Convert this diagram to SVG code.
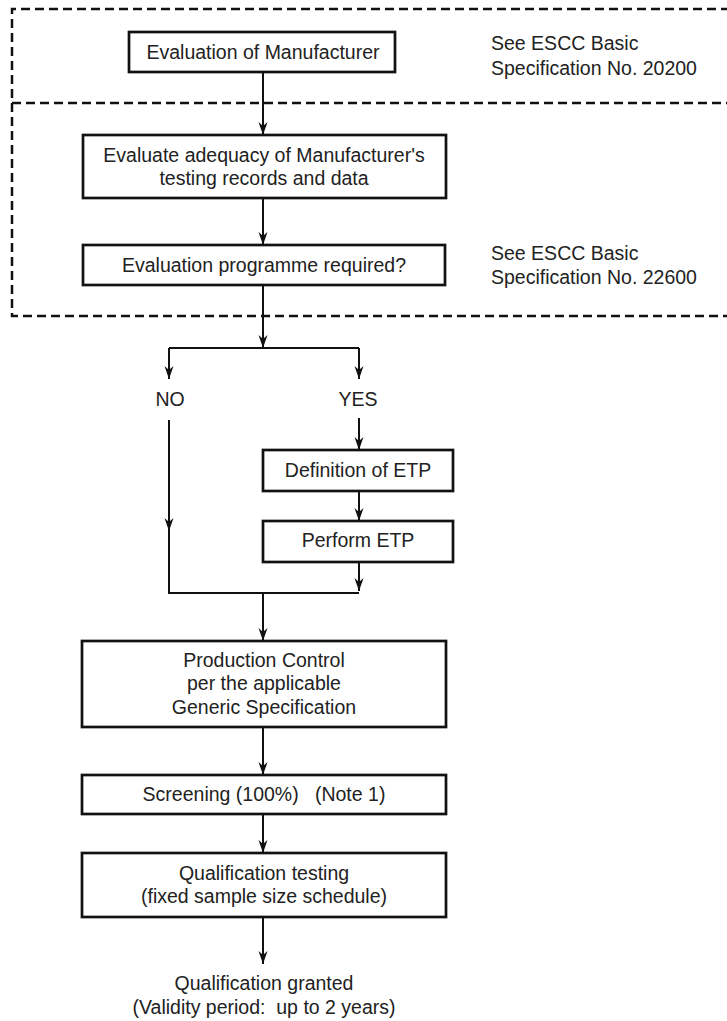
<svg xmlns="http://www.w3.org/2000/svg" width="727" height="1021" viewBox="0 0 727 1021">
<style>
.box{fill:#fff;stroke:#111;stroke-width:2.7}
.dash{fill:none;stroke:#111;stroke-width:2.5;stroke-dasharray:9 5}
.ln{fill:none;stroke:#111;stroke-width:2}
text{font-family:"Liberation Sans",Arial,sans-serif;font-size:19.5px;fill:#222}
.c{text-anchor:middle}
</style>
<defs>
<marker id="ah" markerUnits="userSpaceOnUse" markerWidth="16" markerHeight="12" viewBox="-14 -6 16 12" refX="0" refY="0" orient="auto">
<path d="M0,0 L-13,-4.5 L-9,0 L-13,4.5 Z" fill="#111"/>
</marker>
</defs>
<rect width="727" height="1021" fill="#fff"/>
<g id="frame">
<path class="dash" d="M730,9 H12 V316 H730"/>
<path class="dash" d="M12,103 H730"/>
</g>
<g id="connectors">
<path class="ln" d="M263,72 V135" marker-end="url(#ah)"/>
<path class="ln" d="M263,198 V245" marker-end="url(#ah)"/>
<path class="ln" d="M263,285 V348" marker-end="url(#ah)"/>
<path class="ln" d="M169,348 H359"/>
<path class="ln" d="M169,348 V379" marker-end="url(#ah)"/>
<path class="ln" d="M359,348 V379" marker-end="url(#ah)"/>
<path class="ln" d="M359,418 V450" marker-end="url(#ah)"/>
<path class="ln" d="M359,491 V521" marker-end="url(#ah)"/>
<path class="ln" d="M359,562 V591" marker-end="url(#ah)"/>
<path class="ln" d="M169,420 V531" marker-end="url(#ah)"/>
<path class="ln" d="M169,530 V593 H359"/>
<path class="ln" d="M263,593 V641" marker-end="url(#ah)"/>
<path class="ln" d="M263,727 V775" marker-end="url(#ah)"/>
<path class="ln" d="M263,814 V853" marker-end="url(#ah)"/>
<path class="ln" d="M263,917 V964" marker-end="url(#ah)"/>
</g>
<g id="n1">
<rect class="box" x="129" y="32" width="266" height="40"/>
<text class="c" x="263" y="59">Evaluation of Manufacturer</text>
</g>
<g id="note1">
<text x="491" y="50">See ESCC Basic</text>
<text x="491" y="75">Specification No. 20200</text>
</g>
<g id="n2">
<rect class="box" x="83" y="135" width="363" height="63"/>
<text class="c" x="264" y="162">Evaluate adequacy of Manufacturer's</text>
<text class="c" x="264" y="185">testing records and data</text>
</g>
<g id="n3">
<rect class="box" x="83" y="245" width="362" height="40"/>
<text class="c" x="264" y="272">Evaluation programme required?</text>
</g>
<g id="note2">
<text x="491" y="260">See ESCC Basic</text>
<text x="491" y="284">Specification No. 22600</text>
</g>
<g id="no"><text class="c" x="170" y="406">NO</text></g>
<g id="yes"><text class="c" x="358" y="406">YES</text></g>
<g id="n4">
<rect class="box" x="263" y="450" width="190" height="41"/>
<text class="c" x="358" y="477">Definition of ETP</text>
</g>
<g id="n5">
<rect class="box" x="263" y="521" width="190" height="41"/>
<text class="c" x="358" y="547">Perform ETP</text>
</g>
<g id="n6">
<rect class="box" x="82" y="641" width="364" height="86"/>
<text class="c" x="264" y="667">Production Control</text>
<text class="c" x="264" y="690">per the applicable</text>
<text class="c" x="264" y="714">Generic Specification</text>
</g>
<g id="n7">
<rect class="box" x="82" y="775" width="364" height="39"/>
<text class="c" x="264" y="801" xml:space="preserve">Screening (100%)   (Note 1)</text>
</g>
<g id="n8">
<rect class="box" x="82" y="853" width="364" height="64"/>
<text class="c" x="264" y="880">Qualification testing</text>
<text class="c" x="264" y="903">(fixed sample size schedule)</text>
</g>
<g id="n9">
<text class="c" x="264" y="990">Qualification granted</text>
<text class="c" x="264" y="1014" xml:space="preserve">(Validity period:  up to 2 years)</text>
</g>
</svg>
